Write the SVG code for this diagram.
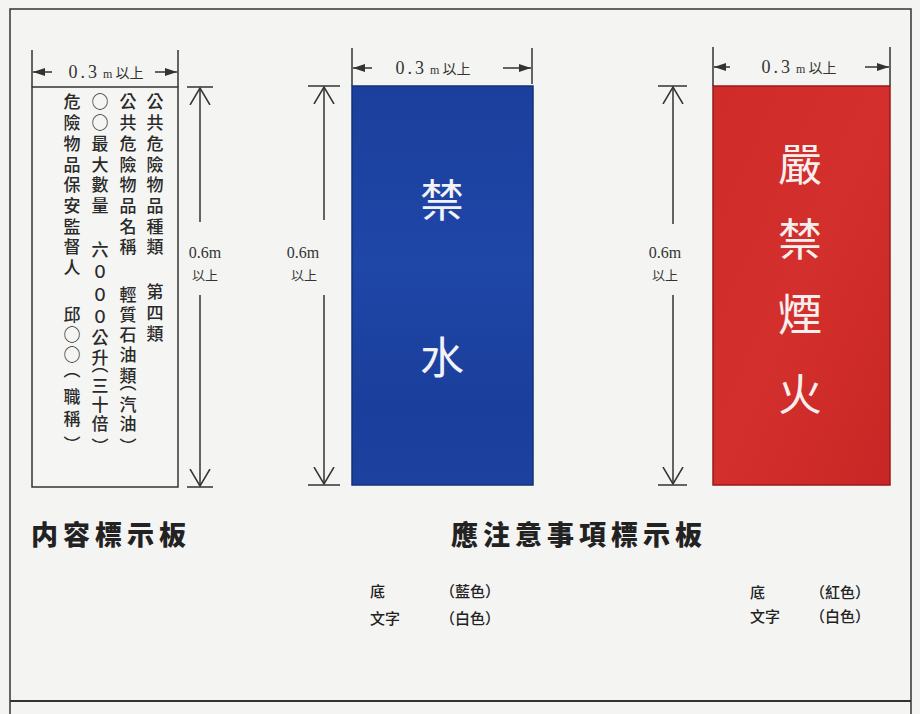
<svg xmlns="http://www.w3.org/2000/svg" width="920" height="714" viewBox="0 0 920 714">
<style>
.ln{stroke:#333;stroke-width:1.5;fill:none}
.cjk{font-family:"Noto Sans CJK TC","Noto Sans CJK JP",sans-serif}
.col{font-family:"Noto Sans CJK TC","Noto Sans CJK JP",sans-serif;font-size:17px;font-weight:500;fill:#2a2a2a;text-anchor:middle;dominant-baseline:central}
.num{font-family:"Liberation Serif",serif;fill:#333}
.dim{text-anchor:middle;fill:#333}
.big{font-family:"Noto Sans CJK TC","Noto Sans CJK JP",sans-serif;font-size:44px;text-anchor:middle;dominant-baseline:central}
.ttl{font-family:"Noto Sans CJK TC","Noto Sans CJK JP",sans-serif;font-size:27px;font-weight:900;fill:#222;letter-spacing:5px;dominant-baseline:central}
.sm{font-family:"Noto Sans CJK TC","Noto Sans CJK JP",sans-serif;font-size:15px;font-weight:500;fill:#222;dominant-baseline:central}
</style>
<defs>
<marker id="arrF" viewBox="0 0 12 8" refX="12" refY="4" markerWidth="12" markerHeight="8" markerUnits="userSpaceOnUse" orient="auto">
<path d="M0,0 L12,4 L0,8 z" fill="#333"/>
</marker>
<marker id="arrV" viewBox="0 0 18 22" refX="17" refY="11" markerWidth="18" markerHeight="22" markerUnits="userSpaceOnUse" orient="auto">
<path d="M0,1 L17,11 L0,21" fill="none" stroke="#333" stroke-width="1.5"/>
</marker>
<linearGradient id="gBlue" x1="0" y1="0" x2="0" y2="1">
<stop offset="0" stop-color="#1b3f9c"/>
<stop offset="0.45" stop-color="#1f47a8"/>
<stop offset="0.8" stop-color="#1a3e9b"/>
<stop offset="1" stop-color="#1c419f"/>
</linearGradient>
<linearGradient id="gRed" x1="0" y1="0" x2="1" y2="1">
<stop offset="0" stop-color="#cf2b29"/>
<stop offset="0.5" stop-color="#d3302d"/>
<stop offset="1" stop-color="#c82624"/>
</linearGradient>
</defs>

<rect x="0" y="0" width="920" height="714" fill="#f4f4f2"/>

<g id="frame">
<path class="ln" d="M10,714 V9 H911 V714"/>
<line x1="10" y1="701" x2="911" y2="701" stroke="#333" stroke-width="2"/>
</g>

<g id="content-sign">
<rect x="32" y="87" width="146" height="400" fill="#f5f5f3" stroke="#333" stroke-width="1.5"/>
<text class="col" x="155 155 155 155 155 155 155 155 155 155 155" y="100 121 142 163 183 204 225 245 290 311 332">公共危險物品種類第四類</text>
<text class="col" x="128 128 128 128 128 128 128 128 128 128 128 128 128 128 128 128 128" y="100 121 142 163 183 204 225 245 293 313 333 353 374 381 403 422 445">公共危險物品名稱輕質石油類︵汽油︶</text>
<text class="col" x="100 100 100 100 100 100 100 100 100 100 100 100 100 100 100 100 100" y="100 121 142 163 183 204 248 270 293 315 336 356 363 384 403 422 445">○○最大數量六０００公升︵三十倍︶</text>
<text class="col" x="72 72 72 72 72 72 72 72 72 72 72 72 72 72 72 72" y="100 121 142 163 183 204 225 245 266 313 333 353 368 395 417 443">危險物品保安監督人邱○○︵職稱︶</text>
</g>

<g id="water-sign">
<rect x="352" y="86" width="181" height="399" fill="url(#gBlue)" stroke="#13307a" stroke-width="1.5"/>
<text class="big" x="442" y="198" fill="#f2f2f8">禁</text>
<text class="big" x="442" y="355" fill="#f2f2f8">水</text>
</g>

<g id="fire-sign">
<rect x="713" y="86" width="177" height="399" fill="url(#gRed)" stroke="#9a1a1a" stroke-width="1.5"/>
<text class="big" x="800" y="162" fill="#f8eeee">嚴</text>
<text class="big" x="800" y="237" fill="#f8eeee">禁</text>
<text class="big" x="800" y="312" fill="#f8eeee">煙</text>
<text class="big" x="800" y="392" fill="#f8eeee">火</text>
</g>

<g id="connectors">
<line class="ln" x1="32" y1="50" x2="32" y2="87"/>
<line class="ln" x1="178" y1="50" x2="178" y2="87"/>
<line class="ln" x1="52" y1="72" x2="33" y2="72" marker-end="url(#arrF)"/>
<line class="ln" x1="155" y1="72" x2="177" y2="72" marker-end="url(#arrF)"/>
<line class="ln" x1="187" y1="87" x2="213" y2="87"/>
<line class="ln" x1="187" y1="487" x2="213" y2="487"/>
<line class="ln" x1="200" y1="222" x2="200" y2="88" marker-end="url(#arrV)"/>
<line class="ln" x1="200" y1="295" x2="200" y2="486" marker-end="url(#arrV)"/>
<line class="ln" x1="352" y1="48" x2="352" y2="86"/>
<line class="ln" x1="532" y1="48" x2="532" y2="84"/>
<line class="ln" x1="372" y1="68" x2="353" y2="68" marker-end="url(#arrF)"/>
<line class="ln" x1="503" y1="68" x2="531" y2="68" marker-end="url(#arrF)"/>
<line class="ln" x1="308" y1="86" x2="340" y2="86"/>
<line class="ln" x1="308" y1="485" x2="340" y2="485"/>
<line class="ln" x1="324" y1="220" x2="324" y2="87" marker-end="url(#arrV)"/>
<line class="ln" x1="324" y1="295" x2="324" y2="484" marker-end="url(#arrV)"/>
<line class="ln" x1="713" y1="47" x2="713" y2="86"/>
<line class="ln" x1="890" y1="47" x2="890" y2="86"/>
<line class="ln" x1="730" y1="67" x2="714" y2="67" marker-end="url(#arrF)"/>
<line class="ln" x1="865" y1="67" x2="889" y2="67" marker-end="url(#arrF)"/>
<line class="ln" x1="658" y1="86" x2="687" y2="86"/>
<line class="ln" x1="658" y1="485" x2="687" y2="485"/>
<line class="ln" x1="673" y1="224" x2="673" y2="87" marker-end="url(#arrV)"/>
<line class="ln" x1="673" y1="295" x2="673" y2="484" marker-end="url(#arrV)"/>
</g>

<g id="dim-labels">
<text class="dim" x="106" y="78"><tspan class="num" font-size="18" letter-spacing="3">0.3</tspan><tspan class="num" font-size="12"> m</tspan><tspan class="cjk" font-size="14"> 以上</tspan></text>
<text class="dim" x="433" y="74"><tspan class="num" font-size="18" letter-spacing="3">0.3</tspan><tspan class="num" font-size="12"> m</tspan><tspan class="cjk" font-size="14"> 以上</tspan></text>
<text class="dim" x="799" y="73"><tspan class="num" font-size="18" letter-spacing="3">0.3</tspan><tspan class="num" font-size="12"> m</tspan><tspan class="cjk" font-size="14"> 以上</tspan></text>
<text class="dim num" x="205" y="258" font-size="16">0.6m</text>
<text class="dim cjk" x="205" y="280" font-size="13">以上</text>
<text class="dim num" x="303" y="258" font-size="16">0.6m</text>
<text class="dim cjk" x="304" y="280" font-size="13">以上</text>
<text class="dim num" x="665" y="258" font-size="16">0.6m</text>
<text class="dim cjk" x="665" y="280" font-size="13">以上</text>
</g>

<g id="captions">
<text class="ttl" x="31" y="533">内容標示板</text>
<text class="ttl" x="451" y="533">應注意事項標示板</text>
<text class="sm" x="370" y="590">底</text>
<text class="sm" x="440" y="590">（藍色）</text>
<text class="sm" x="370" y="617">文字</text>
<text class="sm" x="440" y="617">（白色）</text>
<text class="sm" x="750" y="591">底</text>
<text class="sm" x="810" y="591">（紅色）</text>
<text class="sm" x="750" y="615">文字</text>
<text class="sm" x="810" y="615">（白色）</text>
</g>
</svg>
